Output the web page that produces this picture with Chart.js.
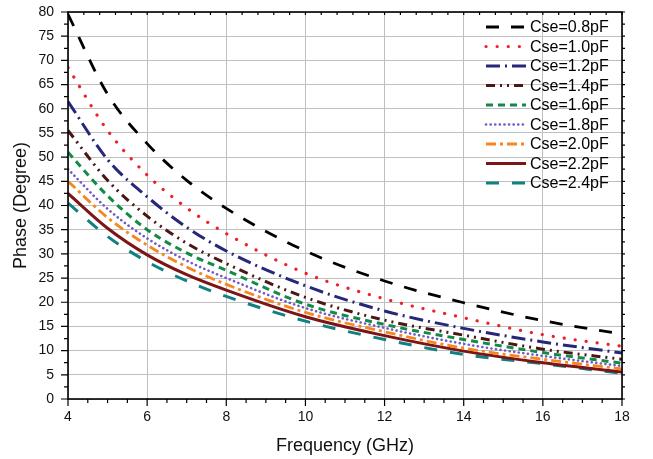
<!DOCTYPE html>
<html>
<head>
<meta charset="utf-8">
<script src="https://cdn.jsdelivr.net/npm/chart.js@4"></script>
<style>
  html, body { margin: 0; padding: 0; background: #fff; }
  #wrap { width: 653px; height: 459px; }
</style>
</head>
<body>
<div id="wrap"><canvas id="phaseChart"></canvas></div>
<script>
// frequency points (GHz) and phase (degree)
const freq = [4, 5, 6, 7, 8, 10, 12, 14, 16, 18];
const cse08 = [79.5, 63.0, 52.8, 45.2, 39.4, 30.6, 24.4, 19.9, 16.2, 13.4];
const cse10 = [68.5, 55.5, 46.3, 39.5, 34.2, 26.0, 20.7, 16.8, 13.3, 10.9];
const cse12 = [61.5, 49.5, 41.8, 35.5, 30.6, 23.4, 18.2, 14.6, 11.8, 9.5];
const cse14 = [55.5, 45.2, 37.8, 32.2, 28.0, 21.0, 16.3, 13.2, 10.3, 8.2];
const cse16 = [51.0, 42.0, 35.0, 30.2, 26.6, 19.6, 15.4, 12.3, 9.6, 7.4];
const cse18 = [47.5, 39.3, 33.2, 28.6, 25.0, 18.8, 14.7, 11.4, 8.9, 6.8];
const cse20 = [45.0, 37.5, 31.8, 27.3, 23.7, 17.9, 13.9, 10.5, 8.2, 6.2];
const cse22 = [42.5, 35.3, 29.8, 25.7, 22.5, 17.0, 13.1, 9.9, 7.5, 5.6];
const cse24 = [40.5, 33.6, 28.4, 24.4, 21.2, 16.1, 12.3, 9.2, 7.3, 5.3];

const seriesNames = ["Cse=0.8pF", "Cse=1.0pF", "Cse=1.2pF", "Cse=1.4pF", "Cse=1.6pF",
                     "Cse=1.8pF", "Cse=2.0pF", "Cse=2.2pF", "Cse=2.4pF"];
const xTicks = [4, 6, 8, 10, 12, 14, 16, 18];
const yTicks = [0, 5, 10, 15, 20, 25, 30, 35, 40, 45, 50, 55, 60, 65, 70, 75, 80];

const allSeries = [cse08, cse10, cse12, cse14, cse16, cse18, cse20, cse22, cse24];
const styles = [
  { color: "#000000", dash: [13, 12], cap: "butt", width: 2.8 },
  { color: "#f0202a", dash: [0.1, 11], cap: "round", width: 3.2 },
  { color: "#26267a", dash: [14, 5, 2, 5], cap: "butt", width: 3 },
  { color: "#4a1616", dash: [9, 5, 2, 5, 2, 5], cap: "butt", width: 3 },
  { color: "#138a45", dash: [7, 5], cap: "butt", width: 3 },
  { color: "#7258c8", dash: [0.1, 4.5], cap: "round", width: 2.6 },
  { color: "#f7861e", dash: [10, 4, 3, 4], cap: "butt", width: 2.8 },
  { color: "#7d1416", dash: [], cap: "butt", width: 3 },
  { color: "#108080", dash: [13, 13], cap: "butt", width: 3 }
];

const datasets = allSeries.map((vals, i) => ({
  label: seriesNames[i],
  data: vals.map((v, k) => ({ x: freq[k], y: v })),
  borderColor: styles[i].color,
  backgroundColor: styles[i].color,
  borderWidth: styles[i].width,
  borderDash: styles[i].dash,
  borderCapStyle: styles[i].cap,
  pointRadius: 0,
  cubicInterpolationMode: "monotone",
  fill: false
}));

const fontFam = "'Liberation Sans', Arial, sans-serif";

// frame, minor ticks and the in-plot legend
const frameAndLegend = {
  id: "frameAndLegend",
  afterDraw(chart) {
    const { ctx, chartArea: a, scales: { x, y } } = chart;
    ctx.save();
    ctx.strokeStyle = "#000";
    ctx.lineWidth = 1.2;
    ctx.beginPath();
    for (let v = 4; v <= 18.001; v += 0.5) {
      const px = x.getPixelForValue(v);
      const major = Math.abs(v % 2) < 1e-6;
      ctx.moveTo(px, a.bottom);
      ctx.lineTo(px, a.bottom + (major ? 7 : 4));
    }
    for (let v = 4; v <= 18.001; v += 0.4) {
      const px = x.getPixelForValue(v);
      ctx.moveTo(px, a.top);
      ctx.lineTo(px, a.top + 3);
    }
    for (let v = 0; v <= 80; v += 2.5) {
      const py = y.getPixelForValue(v);
      const major = v % 5 === 0;
      ctx.moveTo(a.left, py);
      ctx.lineTo(a.left - (major ? 7 : 4), py);
      ctx.moveTo(a.right, py);
      ctx.lineTo(a.right + 3, py);
    }
    ctx.stroke();

    ctx.lineWidth = 1.6;
    ctx.strokeRect(a.left, a.top, a.right - a.left, a.bottom - a.top);

    // legend
    ctx.font = "16px " + fontFam;
    ctx.textBaseline = "middle";
    ctx.textAlign = "left";
    ctx.fillStyle = "#000";
    chart.data.datasets.forEach((ds, i) => {
      const ly = 27 + i * 19.5;
      ctx.save();
      ctx.strokeStyle = ds.borderColor;
      ctx.lineWidth = ds.borderWidth;
      ctx.lineCap = ds.borderCapStyle;
      ctx.setLineDash(ds.borderDash);
      ctx.beginPath();
      ctx.moveTo(486, ly);
      ctx.lineTo(526, ly);
      ctx.stroke();
      ctx.restore();
      ctx.fillText(ds.label, 530, ly + 1);
    });
    ctx.restore();
  }
};

const ctx = document.getElementById("phaseChart").getContext("2d");

new Chart(ctx, {
  type: "line",
  data: { datasets: datasets },
  options: {
    responsive: true,
    maintainAspectRatio: false,
    animation: false,
    layout: { padding: { top: 12, right: 31, left: 0, bottom: 0 } },
    plugins: {
      legend: { display: false },
      tooltip: { enabled: false }
    },
    scales: {
      x: {
        type: "linear",
        min: 4,
        max: 18,
        afterBuildTicks: s => { s.ticks = xTicks.map(v => ({ value: v })); },
        afterFit: s => { s.height = 60; },
        grid: { color: "#bfbfbf", lineWidth: 1, drawTicks: false },
        border: { display: false },
        ticks: {
          padding: 10,
          color: "#111",
          maxRotation: 0,
          font: { family: fontFam, size: 14 }
        },
        title: {
          display: true,
          text: "Frequency (GHz)",
          color: "#111",
          padding: { top: 0, bottom: 2 },
          font: { family: fontFam, size: 18 }
        }
      },
      y: {
        min: 0,
        max: 80,
        afterBuildTicks: s => { s.ticks = yTicks.map(v => ({ value: v })); },
        afterFit: s => { s.width = 68; s.paddingTop = 0; s.paddingBottom = 0; },
        grid: { color: "#bfbfbf", lineWidth: 1, drawTicks: false },
        border: { display: false },
        ticks: {
          padding: 14,
          color: "#111",
          font: { family: fontFam, size: 14 }
        },
        title: {
          display: true,
          text: "Phase (Degree)",
          color: "#111",
          padding: { top: 10, bottom: 0 },
          font: { family: fontFam, size: 18 }
        }
      }
    }
  },
  plugins: [frameAndLegend]
});
</script>
</body>
</html>
